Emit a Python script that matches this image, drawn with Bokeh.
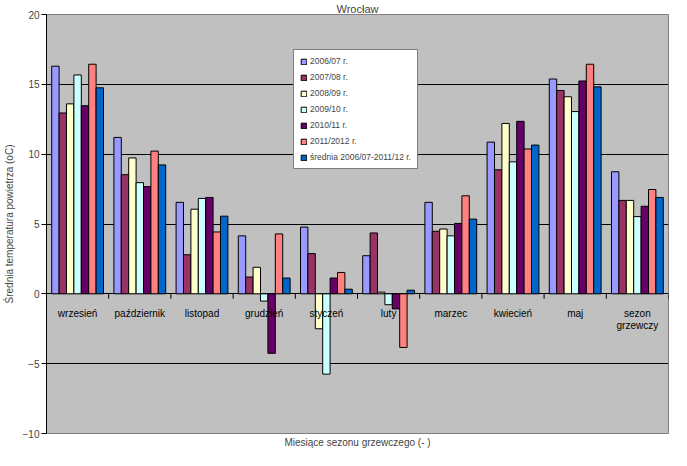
import math
from bokeh.plotting import figure
from bokeh.models import (Range1d, FixedTicker, Legend, LegendItem, ColumnDataSource)
from bokeh.core.properties import value
from bokeh.embed import file_html
from bokeh.resources import INLINE

months = ["wrzesień", "październik", "listopad", "grudzień", "styczeń", "luty",
          "marzec", "kwiecień", "maj", "sezon\ngrzewczy"]
s2006_07 = [16.3, 11.2, 6.55, 4.15, 4.78, 2.73, 6.55, 10.86, 15.38, 8.74]
s2007_08 = [12.95, 8.53, 2.80, 1.2, 2.88, 4.36, 4.48, 8.88, 14.56, 6.69]
s2008_09 = [13.6, 9.73, 6.06, 1.9, -2.5, 0.12, 4.64, 12.2, 14.11, 6.69]
s2009_10 = [15.67, 7.96, 6.83, -0.52, -5.75, -0.78, 4.15, 9.45, 13.05, 5.53]
s2010_11 = [13.47, 7.68, 6.90, -4.26, 1.13, -1.08, 5.04, 12.35, 15.24, 6.27]
s2011_12 = [16.44, 10.22, 4.43, 4.29, 1.53, -3.84, 7.02, 10.37, 16.44, 7.47]
s_avg = [14.75, 9.23, 5.56, 1.13, 0.33, 0.26, 5.35, 10.65, 14.82, 6.90]

series_labels = ["2006/07 r.", "2007/08 r.", "2008/09 r.", "2009/10 r.",
                 "2010/11 r.", "2011/2012 r.", "średnia 2006/07-2011/12 r."]
series_values = [s2006_07, s2007_08, s2008_09, s2009_10, s2010_11, s2011_12, s_avg]
series_colors = ["#9999FF", "#993366", "#FFFFCC", "#CCFFFF", "#660066", "#FF8080", "#0066CC"]

y_ticks = [-10, -5, 0, 5, 10, 15, 20]
grid_ticks = [-5, 0, 5, 10, 15]

FONT = "Liberation Sans"
nc = len(months)

p = figure(width=671, height=450, x_range=Range1d(0, nc),
           y_range=Range1d(-10, 20), output_backend="svg", toolbar_location=None,
           min_border_left=0, min_border_right=3, min_border_top=0, min_border_bottom=17)

p.title.text = "Wrocław"
p.title.align = "center"
p.title.text_font = FONT
p.title.text_font_size = "11px"
p.title.text_font_style = "normal"
p.title.standoff = 0

p.background_fill_color = "#C0C0C0"
p.border_fill_color = "white"
p.outline_line_color = "#808080"

p.xgrid.grid_line_color = None
p.ygrid.ticker = FixedTicker(ticks=grid_ticks)
p.ygrid.grid_line_color = "black"
p.ygrid.grid_line_width = 1

# y axis
yax = p.yaxis[0]
yax.ticker = FixedTicker(ticks=y_ticks)
yax.axis_label = "Średnia temperatura powietrza (oC)"
yax.axis_label_text_font = FONT
yax.axis_label_text_font_size = "10px"
yax.axis_label_text_font_style = "normal"
yax.axis_label_standoff = 5
yax.major_label_text_font = FONT
yax.major_label_text_font_size = "10px"
yax.major_label_standoff = 2
yax.major_tick_out = 5
yax.major_tick_in = 0
yax.minor_tick_line_color = None
yax.axis_line_color = "black"
yax.major_tick_line_color = "black"

# bottom axis: only the axis title
xax = p.xaxis[0]
xax.ticker = FixedTicker(ticks=[])
xax.axis_label = "Miesiące sezonu grzewczego (- )"
xax.axis_label_text_font = FONT
xax.axis_label_text_font_size = "10px"
xax.axis_label_text_font_style = "normal"
xax.axis_label_standoff = 3
xax.major_label_standoff = 0
xax.major_tick_out = 0
xax.major_tick_in = 0
xax.minor_tick_out = 0
xax.minor_tick_in = 0
xax.axis_line_color = None
xax.major_tick_line_color = None
xax.minor_tick_line_color = None

n = len(series_values)
bw = 0.119
items = []
for i, (lab, vals, col) in enumerate(zip(series_labels, series_values, series_colors)):
    off = (i - (n - 1) / 2) * bw
    src = ColumnDataSource(data=dict(x=[k + 0.5 + off for k in range(nc)], val=vals))
    r = p.vbar(x="x", top="val", width=bw, source=src, fill_color=col,
               line_color="black", line_width=1)
    items.append(LegendItem(label=lab, renderers=[r]))

# category boundary ticks hanging below y=0
p.ray(x=list(range(nc + 1)), y=[0] * (nc + 1), length=5, length_units="screen",
      angle=-math.pi / 2, line_color="black", line_width=1)

# category labels below the y=0 axis line
lab_src = ColumnDataSource(data=dict(x=[k + 0.5 for k in range(nc)], y=[0] * nc, t=months))
p.text(x="x", y="y", text="t", source=lab_src, y_offset=14, text_align="center",
       text_baseline="top", text_font=value(FONT), text_font_size="10px",
       text_color="black", text_line_height=1.1)

legend = Legend(items=items, location=(247, 264))
legend.border_line_color = "black"
legend.border_line_width = 1
legend.background_fill_color = "white"
legend.background_fill_alpha = 1
legend.label_text_font = FONT
legend.label_text_font_size = "8.5px"
legend.glyph_width = 7
legend.glyph_height = 7
legend.label_height = 10
legend.label_standoff = 3
legend.spacing = 6
legend.padding = 6
legend.margin = 0
p.add_layout(legend)

open("out.html", "w").write(file_html(p, INLINE))
